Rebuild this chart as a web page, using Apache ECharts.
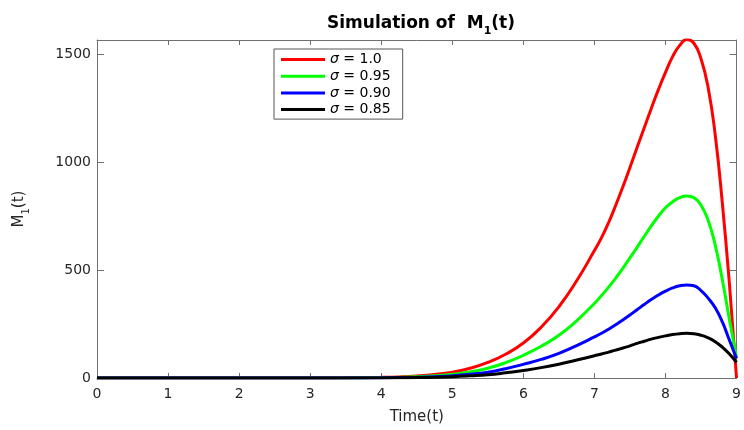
<!DOCTYPE html>
<html>
<head>
<meta charset="utf-8">
<script src="https://cdn.jsdelivr.net/npm/echarts@6/dist/echarts.min.js"></script>
<style>
html,body{margin:0;padding:0;background:#fff;}
#c{width:744px;height:430px;}
</style>
</head>
<body>
<div id="c"></div>
<script>
// ---- data ----
const time = [0,0.5,1,1.5,2,2.5,3,3.5,4,4.25,4.5,4.75,5,5.25,5.5,5.75,6,6.25,6.5,6.75,7,
  7.1,7.2,7.3,7.4,7.5,7.6,7.7,7.8,7.9,8,8.1,8.2,8.3,8.4,8.5,8.6,8.7,8.8,8.9,9];
const sigma100 = [0,0,0,0,0,0,0.3,1,3,5,9,16,27,45,72,110,162,235,330,450,590,
  650,720,800,885,975,1067,1158,1248,1335,1415,1488,1540,1567,1550,1478,1345,1125,810,435,0];
const sigma095 = [0,0,0,0,0,0,0.2,0.5,2,3.5,6,10,17,28,45,71,105,147,198,265,345,
  382,421,463,508,556,605,655,704,749,788,816,835,843,835,800,730,615,455,270,95];
const sigma090 = [0,0,0,0,0,0,0.1,0.3,1,2,3.5,6,10,17,27,43,63,86,114,150,190,
  207,226,247,269,292,316,340,363,384,402,417,427,431,427,405,370,325,260,175,90];
const sigma085 = [0,0,0,0,0,0,0.05,0.2,0.5,1,2,3.5,6,10,15,24,35,48,64,83,103,
  111,120,129,139,149,160,170,180,188,195,201,205,207,205,198,186,168,143,111,72];
const seriesNames = ['σ = 1.0','σ = 0.95','σ = 0.90','σ = 0.85'];
const seriesColors = ['#ff0000','#00ff00','#0000ff','#000000'];
const xTicks = [0,1,2,3,4,5,6,7,8,9];
const yTicks = [0,500,1000,1500];

const FONT = 'DejaVu Sans';
const allValues = [sigma100, sigma095, sigma090, sigma085];
const series = allValues.map((vals, i) => ({
  name: seriesNames[i],
  type: 'line',
  xAxisIndex: 0, yAxisIndex: 0,
  data: time.map((t, k) => [t, vals[k]]),
  showSymbol: false, symbol: 'none',
  smooth: 0.5,
  lineStyle: {color: seriesColors[i], width: 3},
  itemStyle: {color: seriesColors[i]},
  animation: false
}));

const chart = echarts.init(document.getElementById('c'));
const axisColor = '#707070';
const textColor = '#262626';
const baseX = {
  type: 'value', min: 0, max: 9, interval: 1,
  splitLine: {show: false},
  axisLine: {show: true, onZero: false, lineStyle: {color: axisColor, width: 1}},
  axisTick: {show: true, inside: true, length: 5, lineStyle: {color: axisColor}},
};
const baseY = {
  type: 'value', min: 0, max: 1565, interval: 500,
  splitLine: {show: false},
  axisLine: {show: true, onZero: false, lineStyle: {color: axisColor, width: 1}},
  axisTick: {show: true, inside: true, length: 7, lineStyle: {color: axisColor}},
};
chart.setOption({
  backgroundColor: '#fff',
  animation: false,
  title: {
    text: '{b|Simulation of  M}{s|1}{b|(t)}',
    left: 322, top: 7,
    textStyle: {
      rich: {
        b: {fontFamily: FONT, fontSize: 17, fontWeight: 'bold', color: '#000', verticalAlign: 'bottom', lineHeight: 20},
        s: {fontFamily: FONT, fontSize: 11, fontWeight: 'bold', color: '#000', verticalAlign: 'bottom', lineHeight: 20, padding: [0,0,-5,0]}
      }
    }
  },
  grid: {left: 97, right: 6, top: 40, bottom: 45, containLabel: false},
  legend: {
    orient: 'vertical',
    left: 274, top: 49,
    padding: [3, 12, 2, 7],
    icon: 'rect',
    itemWidth: 44, itemHeight: 3, itemGap: 1.7,
    backgroundColor: '#fff',
    borderColor: '#555', borderWidth: 1, borderRadius: 0,
    data: seriesNames,
    formatter: name => name.replace('σ', '{i|σ}'),
    textStyle: {
      fontFamily: FONT, fontSize: 14, color: '#000', lineHeight: 15,
      rich: {i: {fontFamily: FONT, fontSize: 14, fontStyle: 'italic', color: '#000', lineHeight: 15}}
    }
  },
  xAxis: [
    Object.assign({}, baseX, {
      position: 'bottom',
      axisLabel: {show: true, margin: 9, fontFamily: FONT, fontSize: 14, color: textColor,
        formatter: v => xTicks.includes(v) ? String(v) : ''},
      name: 'Time(t)', nameLocation: 'middle', nameGap: 32,
      nameTextStyle: {fontFamily: FONT, fontSize: 15, color: textColor}
    }),
    Object.assign({}, baseX, {position: 'top', axisLabel: {show: false}})
  ],
  yAxis: [
    Object.assign({}, baseY, {
      position: 'left',
      axisLabel: {show: true, margin: 6, fontFamily: FONT, fontSize: 14, color: textColor,
        formatter: v => yTicks.includes(v) ? String(v) : ''},
      name: '{a|M}{s|1}{a|(t)}', nameLocation: 'middle', nameGap: 70, nameRotate: 90,
      nameTextStyle: {
        color: textColor,
        rich: {
          a: {fontFamily: FONT, fontSize: 15, color: textColor, verticalAlign: 'bottom', lineHeight: 20},
          s: {fontFamily: FONT, fontSize: 10, color: textColor, verticalAlign: 'bottom', lineHeight: 20, padding: [0,0,-4,0]}
        }
      }
    }),
    Object.assign({}, baseY, {position: 'right', axisLabel: {show: false}})
  ],
  series: series
});
</script>
</body>
</html>
